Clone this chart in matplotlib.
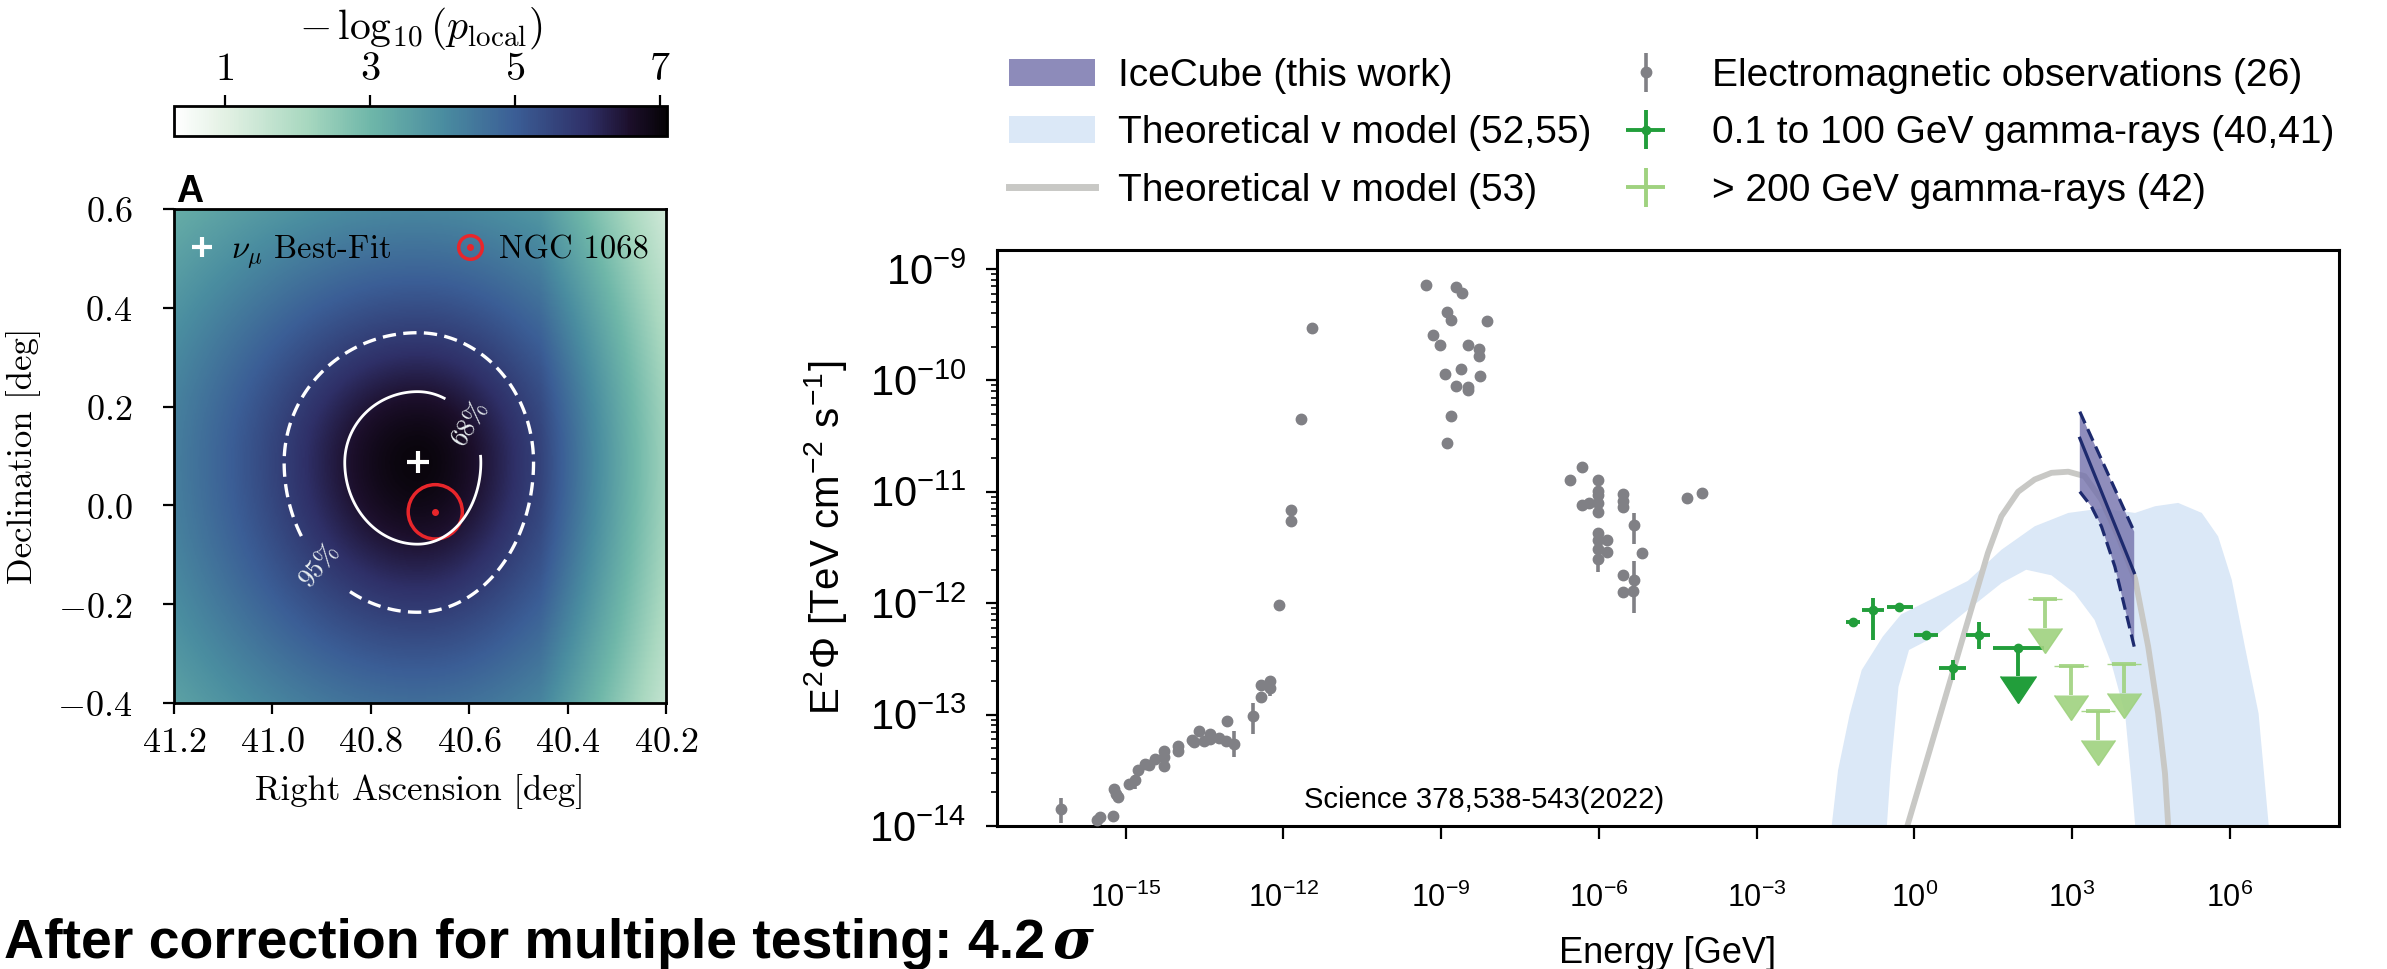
import numpy as np
import matplotlib
matplotlib.use('Agg')
import matplotlib.pyplot as plt
import matplotlib.ticker as mticker
from matplotlib import font_manager
from matplotlib.colors import LinearSegmentedColormap
from matplotlib.lines import Line2D
from matplotlib.patches import Patch, Circle

available = {f.name for f in font_manager.fontManager.ttflist}
SANS = 'Liberation Sans' if 'Liberation Sans' in available else 'DejaVu Sans'
NARROW = 'Liberation Sans Narrow' if 'Liberation Sans Narrow' in available else SANS
SERIF = 'cmr10'

plt.rcParams['mathtext.fontset'] = 'cm'
plt.rcParams['font.family'] = [SANS, 'DejaVu Sans']
plt.rcParams['axes.formatter.use_mathtext'] = True

# ====================== Panel A: sky map data ======================
BEST_FIT_RA, BEST_FIT_DEC = 40.705, 0.087
NGC_RA, NGC_DEC = 40.669, -0.013
NGC_RADIUS = 0.055

# -log10(p_local) surface around the best fit
PEAK = 7.0
SCALE_RA_EAST, SCALE_RA_WEST = 0.253, 0.22
SCALE_DEC_NORTH, SCALE_DEC_SOUTH = 0.245, 0.283
SLOPE = 1.7
WEST_TAIL = 6.3
DROP_68, DROP_95 = 0.5, 1.3

RA_TICKS = [41.2, 41.0, 40.8, 40.6, 40.4, 40.2]
DEC_TICKS = [-0.4, -0.2, 0.0, 0.2, 0.4, 0.6]
CBAR_TICKS = [1, 3, 5, 7]
CBAR_MIN, CBAR_MAX = 0.3, 7.1

CMAP_COLORS = ['#ffffff', '#e3f1e4', '#a9d8c0', '#6fb7a9', '#4a8da0',
               '#3b5e96', '#2f3068', '#1c0f2b', '#060306']
CMAP_POS = [0.0, 0.103, 0.265, 0.397, 0.544, 0.691, 0.838, 0.926, 1.0]

# ====================== Panel B: SED data (log10 values) ======================
# electromagnetic observations: log10 E [GeV], log10 E^2 Phi, error down/up [dex]
em_logE = [-16.23, -15.55, -15.50, -15.24, -15.23, -15.18, -15.14, -14.93, -14.82, -14.76,
           -14.63, -14.55, -14.44, -14.28, -14.28, -14.28, -14.00, -14.00, -13.74, -13.71,
           -13.61, -13.52, -13.40, -13.39, -13.23, -13.10, -13.07, -12.94, -12.58, -12.42,
           -12.42, -12.26, -12.26, -12.08,
           -11.86, -11.86, -11.67, -11.45,
           -9.28, -8.72, -8.60, -8.88, -8.81, -8.12, -9.15, -9.03, -8.49, -8.28,
           -8.28, -8.92, -8.62, -8.26, -8.72, -8.49, -8.49, -8.81, -8.88,
           -6.32, -6.55, -6.02, -6.02, -6.02, -6.33, -6.18, -6.02, -6.02, -6.02,
           -6.02, -6.02, -6.02, -5.85, -5.85, -5.55, -5.55, -5.55, -5.55, -5.55,
           -5.33, -5.33, -5.36, -5.18, -4.32, -4.03]
em_logF = [-13.85, -13.95, -13.92, -13.91, -13.67, -13.71, -13.74, -13.62, -13.59, -13.50,
           -13.44, -13.45, -13.40, -13.33, -13.38, -13.46, -13.28, -13.33, -13.23, -13.25,
           -13.15, -13.24, -13.17, -13.22, -13.21, -13.24, -13.06, -13.26, -13.01, -12.84,
           -12.73, -12.76, -12.70, -12.02,
           -11.16, -11.26, -10.35, -9.53,
           -9.14, -9.16, -9.22, -9.39, -9.46, -9.47, -9.59, -9.68, -9.68, -9.72,
           -9.78, -9.94, -9.90, -9.96, -10.05, -10.06, -10.09, -10.32, -10.56,
           -10.78, -10.89, -10.89, -10.99, -11.03, -11.12, -11.10, -11.10, -11.18, -11.37,
           -11.43, -11.51, -11.60, -11.43, -11.54, -11.02, -11.08, -11.14, -11.75, -11.90,
           -11.30, -11.79, -11.89, -11.55, -11.06, -11.01]
em_err_dn = [0.12, 0.05, 0.03, 0, 0.03, 0, 0, 0, 0.08, 0,
             0, 0, 0, 0, 0, 0, 0, 0, 0, 0,
             0, 0, 0, 0, 0, 0, 0, 0.12, 0.16, 0.04,
             0.04, 0.07, 0.04, 0,
             0, 0, 0, 0,
             0, 0, 0, 0, 0, 0, 0, 0, 0, 0,
             0, 0, 0, 0, 0, 0, 0, 0, 0,
             0, 0, 0, 0, 0, 0, 0, 0, 0, 0,
             0, 0, 0.12, 0, 0, 0, 0, 0, 0, 0,
             0.17, 0.30, 0, 0, 0, 0]
em_err_up = [0.10, 0.05, 0.03, 0, 0.03, 0, 0, 0, 0.05, 0,
             0, 0, 0, 0, 0, 0, 0, 0, 0, 0,
             0, 0, 0, 0, 0, 0, 0, 0.11, 0.11, 0.04,
             0.04, 0.04, 0.04, 0,
             0, 0, 0, 0,
             0, 0, 0, 0, 0, 0, 0, 0, 0, 0,
             0, 0, 0, 0, 0, 0, 0, 0, 0,
             0, 0, 0, 0, 0, 0, 0, 0, 0, 0,
             0, 0, 0, 0, 0, 0, 0, 0, 0, 0,
             0.11, 0.17, 0, 0, 0, 0]

# 0.1-100 GeV gamma rays
fermi_logE = [-1.17, -0.78, -0.29, 0.22, 0.73, 1.23]
fermi_logF = [-12.17, -12.06, -12.03, -12.29, -12.58, -12.29]
fermi_xlo = [0.13, 0.22, 0.23, 0.23, 0.26, 0.24]
fermi_xhi = [0.13, 0.21, 0.27, 0.24, 0.26, 0.22]
fermi_ylo = [0.02, 0.27, 0.02, 0.02, 0.11, 0.12]
fermi_yhi = [0.02, 0.11, 0.02, 0.02, 0.07, 0.12]
fermi_ul_logE, fermi_ul_logF = [1.97], [-12.40]
fermi_ul_xlo, fermi_ul_xhi = [0.48], [0.49]

# > 200 GeV gamma-ray upper limits
magic_logE = [2.48, 2.99, 3.49, 3.99]
magic_logF = [-11.96, -12.56, -12.97, -12.55]
magic_halfwidth = [0.23, 0.23, 0.23, 0.23]

# IceCube butterfly
ice_upper_logE = [3.149, 4.184]
ice_upper_logF = [-10.281, -11.358]
ice_lower_logE = [3.149, 3.371, 3.562, 3.816, 4.184]
ice_lower_logF = [-10.999, -11.134, -11.313, -11.672, -12.390]
ice_best_logE = [3.149, 4.184]
ice_best_logF = [-10.52, -11.726]

# theoretical nu model (52,55): band edges
band_upper_logE = [-1.62, -1.45, -1.23, -1.0, -0.6, -0.25, 0.39, 1.02, 1.66, 2.29, 2.93,
                   3.56, 4.20, 4.58, 5.02, 5.47, 5.78, 6.04, 6.29, 6.55, 6.74, 6.80]
band_upper_logF = [-14.2, -13.5, -13.0, -12.6, -12.3, -12.1, -11.95, -11.8, -11.52, -11.31, -11.19,
                   -11.15, -11.19, -11.13, -11.10, -11.19, -11.40, -11.79, -12.39, -12.99, -13.98, -14.2]
band_lower_logE = [-0.55, -0.45, -0.30, -0.10, 0.39, 1.02, 1.66, 2.13, 2.61, 3.05, 3.43,
                   3.75, 4.01, 4.13, 4.20, 4.22]
band_lower_logF = [-14.2, -13.5, -12.75, -12.42, -12.30, -12.06, -11.82, -11.70, -11.75, -11.91, -12.15,
                   -12.54, -12.99, -13.59, -13.98, -14.2]

# theoretical nu model (53)
curve_logE = [-0.30, -0.12, 0.20, 0.50, 0.80, 1.10, 1.40, 1.657, 1.975, 2.29, 2.61, 2.93,
              3.24, 3.56, 3.88, 4.20, 4.45, 4.64, 4.77, 4.83, 4.90]
curve_logF = [-14.28, -13.98, -13.47, -12.99, -12.51, -12.03, -11.55, -11.22, -11.00, -10.89, -10.83, -10.82,
              -10.86, -11.07, -11.40, -11.78, -12.39, -12.99, -13.53, -13.99, -14.5]

X_TICK_EXP = [-15, -12, -9, -6, -3, 0, 3, 6]

legend_labels = ['IceCube (this work)', 'Theoretical v model (52,55)', 'Theoretical v model (53)',
                 'Electromagnetic observations (26)', '0.1 to 100 GeV gamma-rays (40,41)',
                 '> 200 GeV gamma-rays (42)']

# colours
GRAY = '#808085'
GREEN = '#229e3b'
LIGHT_GREEN = '#9fd27f'
BAND = '#dbe8f7'
CURVE = '#c8c8c5'
ICE_FILL = '#7371ab'
ICE_LINE = '#1d2a6e'
RED = '#e8262b'

W, H = 2387, 969
fig = plt.figure(figsize=(W / 100, H / 100), dpi=100)


def fx(px):
    return px / W


def fy(py):
    return 1 - py / H


# ====================== Panel A ======================
cmap = LinearSegmentedColormap.from_list('pmap', list(zip(CMAP_POS, CMAP_COLORS)))

ax = fig.add_axes([fx(174), fy(703), fx(492), 494 / H])
ra = np.linspace(40.2, 41.2, 401)
dec = np.linspace(-0.4, 0.6, 401)
RA, DEC = np.meshgrid(ra, dec)
d_ra = RA - BEST_FIT_RA
d_dec = DEC - BEST_FIT_DEC
u = np.where(d_ra > 0, d_ra / SCALE_RA_EAST, d_ra / SCALE_RA_WEST)
w = np.where(d_dec > 0, d_dec / SCALE_DEC_NORTH, d_dec / SCALE_DEC_SOUTH)
logp = PEAK - SLOPE * np.log1p(u ** 2 + w ** 2) - WEST_TAIL * np.clip(-d_ra - 0.25, 0, None)

im = ax.imshow(logp, origin='lower', extent=(40.2, 41.2, -0.4, 0.6), cmap=cmap,
               vmin=CBAR_MIN, vmax=CBAR_MAX, aspect='auto', interpolation='bilinear')

cs68 = ax.contour(RA, DEC, logp, levels=[PEAK - DROP_68], colors='white', linewidths=2.0)
cs95 = ax.contour(RA, DEC, logp, levels=[PEAK - DROP_95], colors='white', linewidths=2.4)
cs95.set_linestyle((0, (4, 2.2)))
lab68 = ax.clabel(cs68, fmt=lambda v: '68%', manual=[(40.587, 0.175)], inline=True,
                  fontsize=19, inline_spacing=8)
lab95 = ax.clabel(cs95, fmt=lambda v: '95%', manual=[(40.918, -0.133)], inline=True,
                  fontsize=19, inline_spacing=8)
for t in list(lab68) + list(lab95):
    t.set_fontfamily(SERIF)
    t.set_color('#e8eef0')

ax.plot(BEST_FIT_RA, BEST_FIT_DEC, marker='+', color='white', ms=16, mew=3, ls='none')
ax.add_patch(Circle((NGC_RA, NGC_DEC), NGC_RADIUS, fill=False, ec=RED, lw=2.5))
ax.plot(NGC_RA, NGC_DEC, marker='o', color=RED, ms=4, ls='none')

ax.set_xlim(41.2, 40.2)
ax.set_ylim(-0.4, 0.6)
ax.set_xticks(RA_TICKS)
ax.set_yticks(DEC_TICKS)
cm_fmt = mticker.FuncFormatter(lambda v, p: '$%.1f$' % (0.0 if abs(v) < 1e-9 else v))
ax.xaxis.set_major_formatter(cm_fmt)
ax.yaxis.set_major_formatter(cm_fmt)
ax.tick_params(labelsize=26, length=8, width=1.6, direction='out', pad=8)
ax.tick_params(axis='y', pad=22)
for s in ax.spines.values():
    s.set_linewidth(2.0)
ax.set_xlabel('Right Ascension [deg]', fontfamily=SERIF, fontsize=25, labelpad=10)
ax.set_ylabel('Declination [deg]', fontfamily=SERIF, fontsize=25, labelpad=12)

h_best = Line2D([], [], marker='+', color='white', ms=14, mew=3, ls='none')
h_ngc = (Line2D([], [], marker='o', ms=17, mfc='none', mec=RED, mew=2.5, ls='none'),
         Line2D([], [], marker='o', ms=4, color=RED, ls='none'))
ax.legend([h_best, h_ngc], [r'$\nu_\mu$ Best-Fit', 'NGC 1068'], loc='center left',
          bbox_to_anchor=(0.03, 0.913), ncol=2, frameon=False,
          prop={'family': SERIF, 'size': 23.5}, handlelength=0.8, handletextpad=0.5,
          columnspacing=2.0, borderpad=0, borderaxespad=0)

fig.text(fx(176), fy(202), 'A', fontsize=27, fontweight='bold', fontfamily=NARROW, va='baseline')

cax = fig.add_axes([fx(174), fy(136), fx(493), 30 / H])
cb = fig.colorbar(im, cax=cax, orientation='horizontal', ticks=CBAR_TICKS)
cax.xaxis.set_ticks_position('top')
cax.xaxis.set_label_position('top')
cax.xaxis.set_major_formatter(mticker.FuncFormatter(lambda v, p: '$%d$' % round(v)))
cax.tick_params(labelsize=29, length=8, width=1.6, pad=5)
cb.outline.set_linewidth(2.0)
cb.set_label(r'$-\,\log_{10}(p_{\rm local})$', fontsize=30, labelpad=8)

# ====================== Panel B ======================
ax2 = fig.add_axes([fx(997), fy(826), fx(1342), 576 / H])
ax2.set_xscale('log')
ax2.set_yscale('log')


def lin(a):
    return 10.0 ** np.asarray(a, dtype=float)


bx = np.concatenate([lin(band_upper_logE), lin(band_lower_logE)[::-1]])
by = np.concatenate([lin(band_upper_logF), lin(band_lower_logF)[::-1]])
ax2.fill(bx, by, color=BAND, lw=0, zorder=1)

ax2.plot(lin(curve_logE), lin(curve_logF), color=CURVE, lw=4.2, zorder=2, solid_capstyle='butt')

ix = np.concatenate([lin(ice_upper_logE), lin(ice_lower_logE)[::-1]])
iy = np.concatenate([lin(ice_upper_logF), lin(ice_lower_logF)[::-1]])
ax2.fill(ix, iy, facecolor=ICE_FILL, alpha=0.8, edgecolor='none', zorder=3)
ax2.plot(lin(ice_upper_logE), lin(ice_upper_logF), color=ICE_LINE, lw=2.3, ls=(0, (4, 2)), zorder=4)
ax2.plot(lin(ice_lower_logE), lin(ice_lower_logF), color=ICE_LINE, lw=2.3, ls=(0, (4, 2)), zorder=4)
ax2.plot(lin(ice_best_logE), lin(ice_best_logF), color=ICE_LINE, lw=2.3, zorder=4)

# electromagnetic observations
eF = lin(em_logF)
em_yerr = [eF - eF * lin(-np.asarray(em_err_dn)), eF * lin(em_err_up) - eF]
em = ax2.errorbar(lin(em_logE), eF, yerr=em_yerr, fmt='o', color=GRAY, ms=7.5,
                  elinewidth=2.6, capsize=0, zorder=6)

# Fermi points
fE, fF = lin(fermi_logE), lin(fermi_logF)
fx_err = [fE - fE * lin(-np.asarray(fermi_xlo)), fE * lin(fermi_xhi) - fE]
fy_err = [fF - fF * lin(-np.asarray(fermi_ylo)), fF * lin(fermi_yhi) - fF]
fermi = ax2.errorbar(fE, fF, xerr=fx_err, yerr=fy_err, fmt='o', color=GREEN, ms=6,
                     elinewidth=2.8, capsize=0, zorder=7)
uE, uF = lin(fermi_ul_logE), lin(fermi_ul_logF)
ax2.errorbar(uE, uF, xerr=[uE - uE * lin(-np.asarray(fermi_ul_xlo)), uE * lin(fermi_ul_xhi) - uE],
             fmt='o', color=GREEN, ms=6, elinewidth=2.8, capsize=0, zorder=7)
ax2.errorbar(uE, uF, yerr=uF - uF * 10 ** -0.25, uplims=True, fmt='none', color=GREEN,
             ecolor=GREEN, elinewidth=2.8, capsize=13, zorder=7)

# >200 GeV upper limits
mE, mF = lin(magic_logE), lin(magic_logF)
mw = np.asarray(magic_halfwidth)
ax2.errorbar(mE, mF, xerr=[mE - mE * lin(-mw), mE * lin(mw) - mE], fmt='none',
             ecolor=LIGHT_GREEN, elinewidth=2.8, capsize=0, alpha=0.9, zorder=7)
ax2.errorbar(mE, mF, yerr=mF - mF * 10 ** -0.26, uplims=True, fmt='none', color=LIGHT_GREEN,
             ecolor=LIGHT_GREEN, elinewidth=2.8, capsize=12, alpha=0.9, zorder=7)
magic_proxy = ax2.errorbar([np.nan], [np.nan], xerr=[1.0], yerr=[1.0], fmt='none',
                           ecolor=LIGHT_GREEN, elinewidth=2.8, capsize=0)

ax2.set_xlim(10 ** -17.45, 10 ** 8.08)
ax2.set_ylim(1e-14, 10 ** -8.83)
ax2.xaxis.set_major_locator(mticker.FixedLocator(lin(X_TICK_EXP)))
ax2.xaxis.set_minor_locator(mticker.NullLocator())
ax2.yaxis.set_minor_locator(mticker.LogLocator(base=10, subs=np.arange(2, 10), numticks=20))
ax2.yaxis.set_minor_formatter(mticker.NullFormatter())
ax2.tick_params(axis='x', which='major', labelsize=22, length=9, width=1.6, pad=32,
                labelfontfamily=NARROW)
ax2.tick_params(axis='y', which='major', labelsize=30, length=8, width=1.6, pad=14)
ax2.tick_params(axis='y', which='minor', length=4, width=1.2)
for s in ax2.spines.values():
    s.set_linewidth(2.2)
ax2.set_xlabel('Energy [GeV]', fontsize=26, fontfamily=NARROW, labelpad=16)
ax2.set_ylabel('E$^{\\mathdefault{2}}$\u03a6 [TeV cm$^{\\mathdefault{-2}}$ s$^{\\mathdefault{-1}}$]',
               fontsize=29, labelpad=14)

fig.text(fx(1484), fy(800), 'Science 378,538-543(2022)', fontsize=21, ha='center', va='center')

handles = [Patch(facecolor='#8d8bba', edgecolor='none'),
           Patch(facecolor=BAND, edgecolor='none'),
           Line2D([], [], color=CURVE, lw=5),
           em, fermi, magic_proxy]
fig.legend(handles, legend_labels, loc='upper left', bbox_to_anchor=(fx(1009), fy(58)),
           ncol=2, frameon=False, fontsize=28, handlelength=2.2, handleheight=0.7,
           handletextpad=0.6, columnspacing=0.3, labelspacing=0.55, borderpad=0,
           borderaxespad=0)

# ====================== caption ======================
cap = fig.text(fx(4), fy(958), 'After correction for multiple testing: 4.2', fontsize=40,
               fontweight='bold', fontfamily=NARROW, va='baseline')
fig.canvas.draw()
bb = cap.get_window_extent()
fig.text(bb.x1 / W + 0.003, fy(958), '\u03c3', fontsize=40, fontweight='bold', fontstyle='italic',
         fontfamily='DejaVu Serif', va='baseline')

fig.savefig('out.png', dpi=100)
